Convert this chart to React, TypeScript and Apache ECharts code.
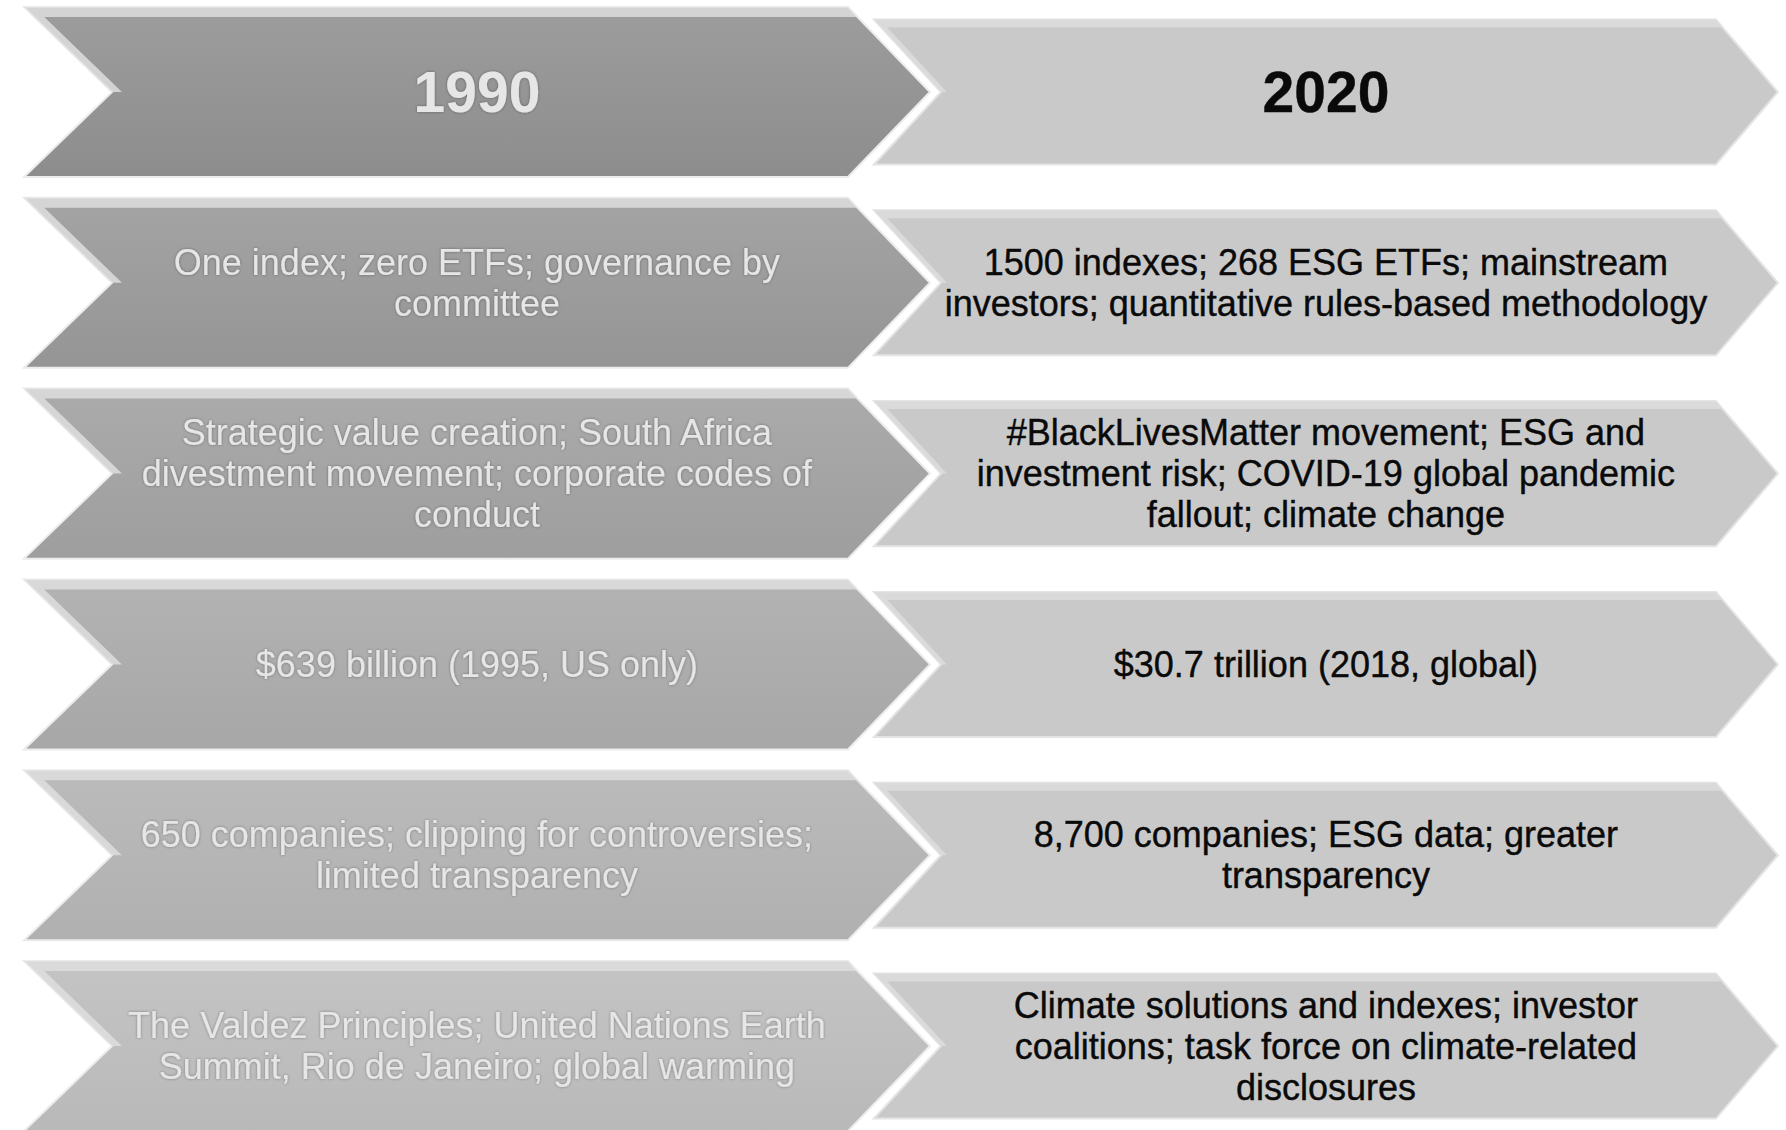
import React, { useEffect, useRef } from "react";
import * as echarts from "echarts";

// ---- content ----
const years = ["1990", "2020"];
const pastItems = [
  "One index; zero ETFs; governance by\ncommittee",
  "Strategic value creation; South Africa\ndivestment movement; corporate codes of\nconduct",
  "$639 billion (1995, US only)",
  "650 companies; clipping for controversies;\nlimited transparency",
  "The Valdez Principles; United Nations Earth\nSummit, Rio de Janeiro; global warming",
];
const presentItems = [
  "1500 indexes; 268 ESG ETFs; mainstream\ninvestors; quantitative rules-based methodology",
  "#BlackLivesMatter movement; ESG and\ninvestment risk; COVID-19 global pandemic\nfallout; climate change",
  "$30.7 trillion (2018, global)",
  "8,700 companies; ESG data; greater\ntransparency",
  "Climate solutions and indexes; investor\ncoalitions; task force on climate-related\ndisclosures",
];

// left column shades (top, bottom) per row
const pastShades = [
  ["#9d9d9d", "#8d8d8d"],
  ["#a4a4a4", "#959595"],
  ["#ababab", "#9e9e9e"],
  ["#b3b3b3", "#a7a7a7"],
  ["#bbbbbb", "#b0b0b0"],
  ["#c4c4c4", "#b9b9b9"],
];

type Item = { col: number; row: number; text: string; header: boolean };
const items: Item[] = [];
[years[0], ...pastItems].forEach((t, i) => items.push({ col: 0, row: i, text: t, header: i === 0 }));
[years[1], ...presentItems].forEach((t, i) => items.push({ col: 1, row: i, text: t, header: i === 0 }));

export default function App() {
  const ref = useRef<HTMLDivElement>(null);
  useEffect(() => {
    if (!ref.current) return;
    const chart = echarts.init(ref.current, undefined, { renderer: "svg" });
    const renderItem = (params: any, api: any) => {
      const it = items[params.dataIndex];
      const c = api.coord([api.value(0), api.value(1)]);
      const s = api.size([1, 1]);
      const cx = c[0];
      const cy = c[1];
      const left = it.col === 0;
      const hw = (left ? 0.5336 : 0.5324) * s[0];
      const hh = (left ? 0.4455 : 0.38) * s[1];
      const notch = (left ? 0.1037 : 0.0789) * s[0];
      const tip = (left ? 0.0966 : 0.073) * s[0];
      const L = cx - hw;
      const R = cx + hw;
      const T = cy - hh;
      const B = cy + hh;
      const pts = [
        [L, T],
        [R - tip, T],
        [R, cy],
        [R - tip, B],
        [L, B],
        [L + notch, cy],
      ];
      const b = left ? 10 : 8;
      const e = left ? 10 : 6;
      const band = [
        [L, T],
        [R - tip, T],
        [R - tip + (tip * b) / hh - 1, T + b],
        [L + e + (notch * b) / hh, T + b],
        [L + notch + e, cy],
        [L + notch, cy],
      ];
      const shades = pastShades[it.row] || pastShades[0];
      const fill = left
        ? new echarts.graphic.LinearGradient(0, 0, 0, 1, [
            { offset: 0, color: shades[0] },
            { offset: 1, color: shades[1] },
          ])
        : "#c9c9c9";
      const children: any[] = [
        {
          type: "polygon",
          shape: { points: pts },
          style: { fill, stroke: left ? "#ececec" : "#e4e4e4", lineWidth: 2 },
        },
        {
          type: "polygon",
          shape: { points: band },
          style: { fill: left ? "#dedede" : "#dcdcdc", opacity: left ? 0.85 : 0.9 },
        },
        {
          type: "text",
          style: {
            text: it.text,
            x: cx,
            y: cy,
            align: "center",
            verticalAlign: "middle",
            fontFamily: "Liberation Sans, Arial, sans-serif",
            fontSize: it.header ? 57 : 36,
            fontWeight: it.header ? "bold" : "normal",
            lineHeight: it.header ? 64 : 41,
            fill: left ? "#e6e6e6" : "#0a0a0a",
            stroke: left ? undefined : "#0a0a0a",
            lineWidth: left ? 0 : 0.4,
            textShadowColor: left ? "rgba(0,0,0,0.35)" : "transparent",
            textShadowBlur: left ? 3 : 0,
          },
        },
      ];
      return { type: "group", children };
    };
    chart.setOption({
      animation: false,
      backgroundColor: "#ffffff",
      grid: { left: 0, right: 0, top: 0, bottom: 0, containLabel: false },
      xAxis: { type: "value", min: -0.5618, max: 1.5419, show: false },
      yAxis: { type: "value", inverse: true, min: -0.4822, max: 5.44, show: false },
      series: [
        {
          type: "custom",
          renderItem,
          data: items.map((it) => [it.col, it.row]),
          silent: true,
        },
      ],
    });
    return () => chart.dispose();
  }, []);
  return (
    <div
      ref={ref}
      style={{ position: "fixed", left: 0, top: 0, width: 1786, height: 1130, background: "#fff" }}
    />
  );
}
